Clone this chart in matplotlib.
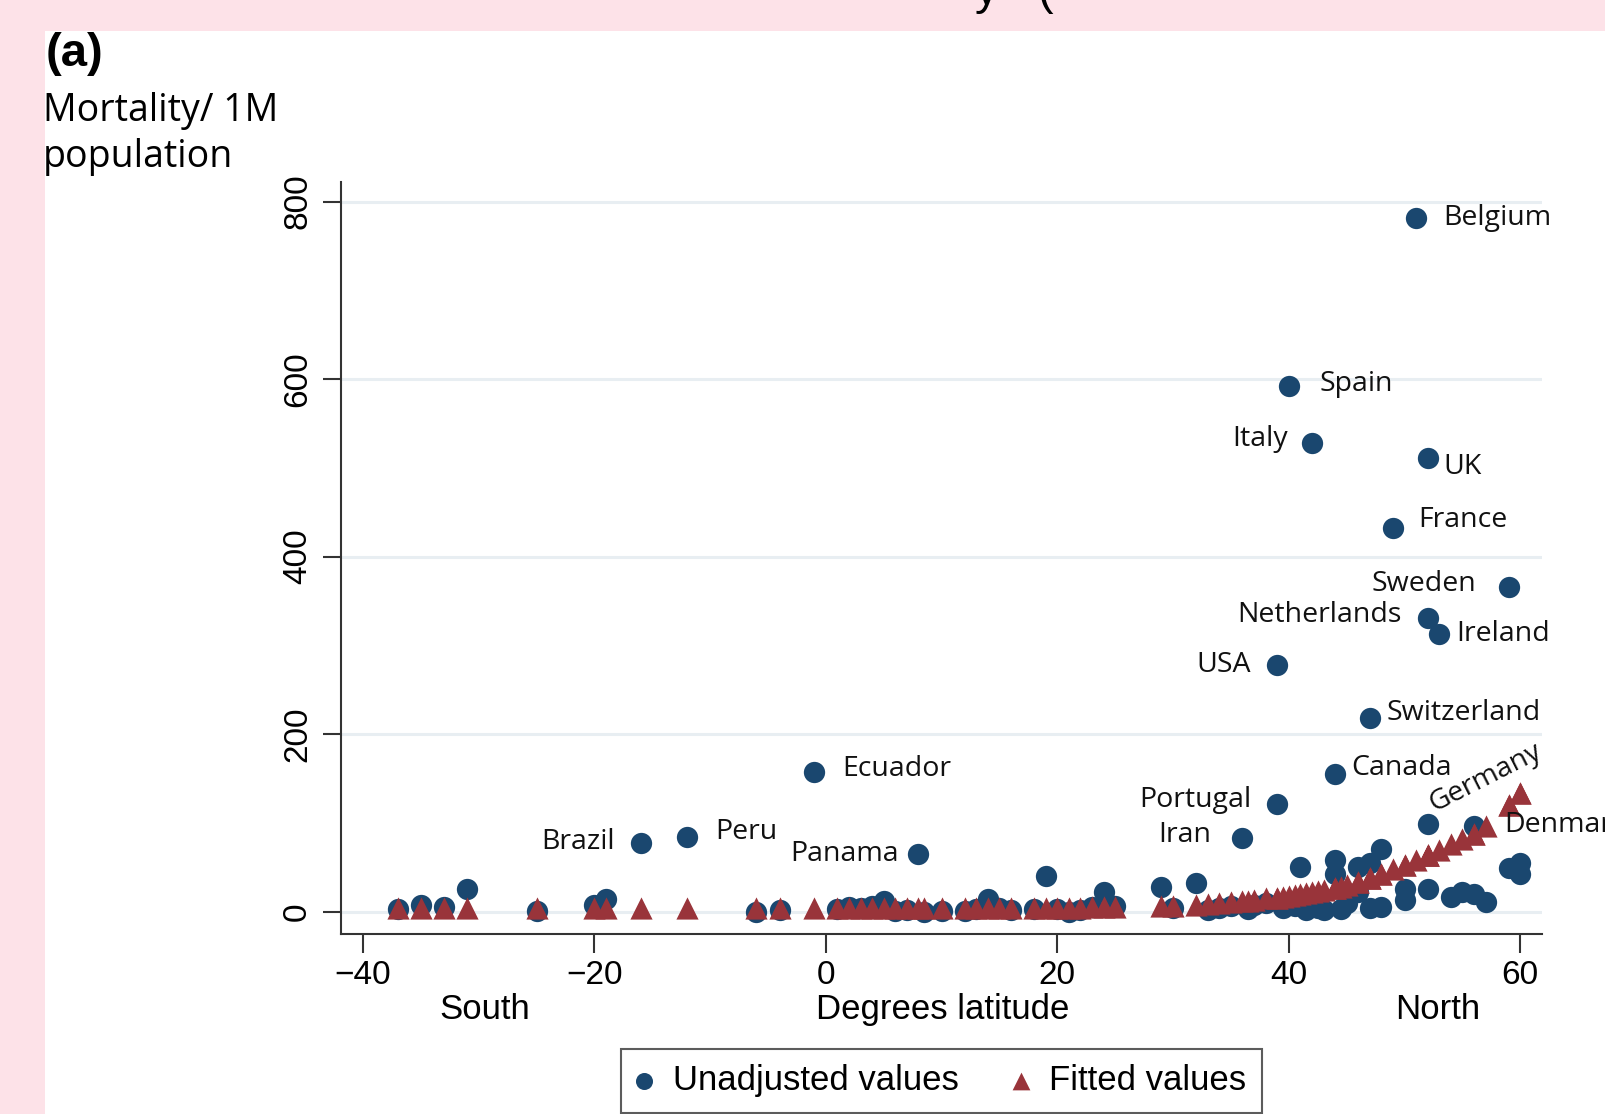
import matplotlib.pyplot as plt
from matplotlib.patches import Rectangle
from matplotlib.transforms import blended_transform_factory

# latitude (degrees), unadjusted mortality per 1M, fitted value
lat = [-37, -35, -33, -31, -25, -20, -19, -16, -12, -6, -4,
       -1, 1, 2, 3, 4, 5, 6, 7, 8, 8.5, 10, 12, 13, 14, 15, 16,
       18, 19, 20, 21, 22, 23, 24, 25,
       29, 30, 32, 33, 34, 35, 36, 36.5, 37, 38, 39, 39, 39.5, 40, 40.5,
       41, 41.5, 42, 42.5, 43, 44, 44, 44, 44.5, 45, 46, 46, 47, 47, 47,
       48, 48, 49, 50, 50, 51, 52, 52, 52, 52, 53, 54, 55, 56, 56, 57,
       59, 59, 60, 60]
unadjusted = [3, 8, 5, 26, 1, 8, 14, 78, 84, 0, 2,
              158, 3, 5, 4, 6, 12, 1, 2, 65, 0, 1, 1, 3, 14, 4, 2,
              3, 40, 3, 0, 2, 5, 22, 7,
              28, 4, 32, 2, 4, 6, 83, 3, 8, 10, 278, 121, 4, 592, 6,
              50, 2, 528, 4, 2, 155, 58, 42, 3, 10, 50, 22, 218, 55, 4,
              71, 5, 432, 26, 13, 782, 511, 331, 99, 26, 313, 17, 22, 97, 20, 11,
              366, 49, 55, 43]
fitted = [4, 4, 4, 4, 4, 4, 4, 4, 4, 4, 4,
          4, 4, 4, 4, 4, 4, 4, 4, 4, 4, 4, 4, 4, 4, 4, 4,
          4, 4, 4, 4, 4, 5, 5, 5,
          7, 7, 8, 9, 10, 11, 12, 12, 13, 15, 16, 16, 17, 18, 19,
          20, 21, 22, 23, 24, 27, 27, 27, 28, 30, 34, 34, 38, 38, 38,
          43, 43, 48, 53, 53, 58, 64, 64, 64, 64, 70, 76, 82, 88, 88, 97,
          120, 120, 134, 134]

# labelled countries: name, lat, mortality, label offset (px), alignment
labels = [("Belgium", 51, 782, 27, 0, "left"),
          ("Spain", 40, 592, 31, 2, "left"),
          ("Italy", 42, 528, -24, 4, "right"),
          ("UK", 52, 511, 16, -9, "left"),
          ("France", 49, 432, 25, 8, "left"),
          ("Sweden", 59, 366, -32, 3, "right"),
          ("Netherlands", 52, 331, -26, 3, "right"),
          ("Ireland", 53, 313, 17, 0, "left"),
          ("USA", 39, 278, -26, 0, "right"),
          ("Switzerland", 47, 218, 17, 5, "left"),
          ("Canada", 44, 155, 16, 6, "left"),
          ("Ecuador", -1, 158, 28, 3, "left"),
          ("Portugal", 39, 121, -26, 4, "right"),
          ("Iran", 36, 83, -31, 3, "right"),
          ("Brazil", -16, 78, -26, 1, "right"),
          ("Peru", -12, 84, 28, 5, "left"),
          ("Panama", 8, 65, -20, 0, "right"),
          ("Denmark", 56, 97, 30, 1, "left")]

xticks = [-40, -20, 0, 20, 40, 60]
yticks = [0, 200, 400, 600, 800]

blue = "#1a476f"
red = "#99343a"
label_font = "Open Sans"

fig = plt.figure(figsize=(16.06, 11.14), dpi=100)
fig.patch.set_facecolor("#fde2e8")
fig.patches.append(Rectangle((45 / 1606, 0), 1, 1 - 31 / 1114, transform=fig.transFigure,
                             facecolor="white", edgecolor="none", zorder=-1))
fig.text(975 / 1606, 1 - 4 / 1114, "y   (", fontsize=34, family="Liberation Sans",
         va="baseline", ha="left")

ax = fig.add_axes([0.2123, 0.1616, 0.748, 0.675])
ax.set_facecolor("white")

ax.scatter(lat, unadjusted, s=235, marker="o", color=blue, linewidths=0, zorder=3,
           label="Unadjusted values")
ax.scatter(lat, fitted, s=255, marker="^", color=red, linewidths=0, zorder=4,
           label="Fitted values")

for name, x, y, dx, dy, ha in labels:
    ax.annotate(name, (x, y), xytext=(dx, dy), textcoords="offset pixels",
                ha=ha, va="center", fontsize=20.5, family=label_font, color="#111111",
                annotation_clip=False, zorder=5)
ax.annotate("Germany", (52, 99), xytext=(10, 6), textcoords="offset pixels",
            ha="left", va="bottom", rotation=27, rotation_mode="anchor",
            fontsize=20.5, family=label_font, color="#111111", zorder=5)

ax.set_xlim(-41.9, 61.9)
ax.set_ylim(-25, 822)
ax.set_xticks(xticks)
ax.set_yticks(yticks)
ax.set_xticklabels([str(t).replace("-", "\u2212") for t in xticks])
ax.set_yticklabels([str(t) for t in yticks], rotation=90, va="center")
for t in ax.get_xticklabels() + ax.get_yticklabels():
    t.set_family("Liberation Sans")
    t.set_fontsize(24)
ax.tick_params(axis="x", length=14, width=1.5, color="#333333", pad=5)
ax.tick_params(axis="y", length=13, width=1.5, color="#333333", pad=7)

ax.grid(axis="y", color="#e8eef2", linewidth=2.2, zorder=0)
ax.set_axisbelow(True)
for side in ["top", "right"]:
    ax.spines[side].set_visible(False)
for side in ["left", "bottom"]:
    ax.spines[side].set_color("#333333")
    ax.spines[side].set_linewidth(1.5)

tr = blended_transform_factory(ax.transData, ax.transAxes)
ax.text(-29.5, -0.101, "South", transform=tr, ha="center", va="center",
        fontsize=25, family="Liberation Sans")
ax.text(52.9, -0.101, "North", transform=tr, ha="center", va="center",
        fontsize=25, family="Liberation Sans")
ax.text(10.1, -0.101, "Degrees latitude", transform=tr, ha="center", va="center",
        fontsize=25, family="Liberation Sans")

fig.text(46 / 1606, 0.9412, "(a)", fontsize=34, fontweight="bold",
         family="Liberation Sans", va="baseline")
fig.text(43 / 1606, 0.8914, "Mortality/ 1M", fontsize=27, family=label_font, va="baseline")
fig.text(43 / 1606, 0.850, "population", fontsize=27, family=label_font, va="baseline")

leg = fig.legend(loc="upper center", bbox_to_anchor=(0.5864, 0.0585), ncol=2,
                 frameon=True, fancybox=False, edgecolor="#333333", markerscale=0.8,
                 prop={"family": "Liberation Sans", "size": 25}, handletextpad=0.63,
                 columnspacing=1.58, borderpad=0.45, borderaxespad=0, handlelength=0.4)
leg.get_frame().set_linewidth(1.5)

fig.savefig("out.png", dpi=100, facecolor=fig.get_facecolor())
